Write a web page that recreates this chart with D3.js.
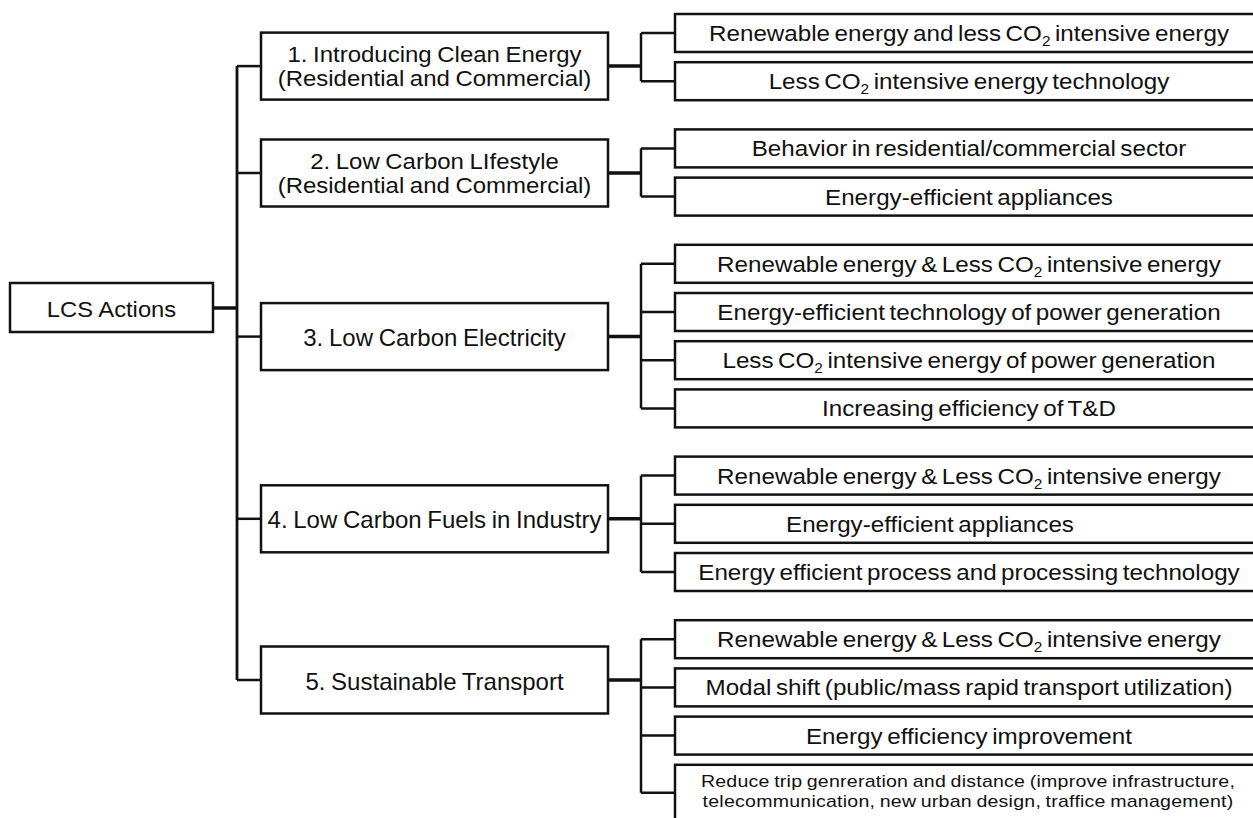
<!DOCTYPE html>
<html>
<head>
<meta charset="utf-8">
<script src="https://cdn.jsdelivr.net/npm/d3@7"></script>
<style>
  html, body { margin: 0; padding: 0; background: #fff; }
  svg { display: block; }
  text { font-family: "Liberation Sans", Arial, sans-serif; fill: #111; }
</style>
</head>
<body>
<svg id="chart" width="1253" height="818"></svg>
<script>
// ---- data ----
const rootLabel = "LCS Actions";
const actionLabels = [
  ["1. Introducing Clean Energy", "(Residential and Commercial)"],
  ["2. Low Carbon LIfestyle", "(Residential and Commercial)"],
  ["3. Low Carbon Electricity"],
  ["4. Low Carbon Fuels in Industry"],
  ["5. Sustainable Transport"]
];
const measures1 = ["Renewable energy and less CO2 intensive energy", "Less CO2 intensive energy technology"];
const measures2 = ["Behavior in residential/commercial sector", "Energy-efficient appliances"];
const measures3 = ["Renewable energy & Less CO2 intensive energy", "Energy-efficient technology of power generation",
                   "Less CO2 intensive energy of power generation", "Increasing efficiency of T&D"];
const measures4 = ["Renewable energy & Less CO2 intensive energy", "Energy-efficient appliances",
                   "Energy efficient process and processing technology"];
const measures5 = ["Renewable energy & Less CO2 intensive energy", "Modal shift (public/mass rapid transport utilization)",
                   "Energy efficiency improvement",
                   ["Reduce trip genreration and distance (improve infrastructure,", "telecommunication, new urban design, traffice management)"]];
const measureGroups = [measures1, measures2, measures3, measures4, measures5];

// ---- layout ----
const svg = d3.select("#chart");
const slot = d3.scaleLinear().domain([0, 1]).range([14, 62.2]); // child slot index -> top
const groupGap = 19;
const childH = 38, childH2 = 56;
const xRoot = [10, 213], xTrunk = 237, xAct = [261, 608], xSub = 641, xChild = [675, 1266];
const actH = 67;
const parentShift = [9, 0.5, 0.5, -5, -40.5];
const childCenterX = 969;

const lineG = svg.append("g").attr("stroke", "#111").attr("fill", "none");
const boxG = svg.append("g");
const textG = svg.append("g");

function addText(x, y, str, opts = {}) {
  const fs = opts.fs || 22;
  const t = textG.append("text").attr("x", x).attr("y", y)
    .attr("text-anchor", opts.anchor || "middle")
    .style("font-size", fs + "px")
    .style("letter-spacing", (opts.ls != null ? opts.ls : 0) + "px")
    .style("word-spacing", (opts.ws != null ? opts.ws : -2) + "px");
  const parts = str.split("CO2");
  parts.forEach((p, i) => {
    if (i > 0) {
      t.append("tspan").text("CO");
      t.append("tspan").text("2").style("font-size", Math.round(fs * 0.64) + "px").attr("dy", 5);
      t.append("tspan").text(p).attr("dy", -5);
    } else if (p.length) {
      t.append("tspan").text(p);
    }
  });
  const stretch = opts.stretch != null ? opts.stretch : 1.1;
  if (stretch !== 1) {
    const len = t.node().getComputedTextLength();
    t.attr("textLength", len * stretch).attr("lengthAdjust", "spacingAndGlyphs");
  }
  return t;
}
function box(x0, x1, y0, y1) {
  boxG.append("rect").attr("x", x0).attr("y", y0).attr("width", x1 - x0).attr("height", y1 - y0)
    .attr("fill", "#fff").attr("stroke", "#111").attr("stroke-width", 2.5);
}
function line(x0, y0, x1, y1, w) {
  lineG.append("line").attr("x1", x0).attr("y1", y0).attr("x2", x1).attr("y2", y1).attr("stroke-width", w);
}

// root
const rootCy = 308;
box(xRoot[0], xRoot[1], rootCy - 25, rootCy + 24);
addText((xRoot[0] + xRoot[1]) / 2, rootCy + 8.5, rootLabel, {ws: 0, stretch: 1.08});
line(xRoot[1], rootCy, xTrunk, rootCy, 3.5);

let k = 0;
const actCenters = [];
measureGroups.forEach((items, g) => {
  const centers = [];
  items.forEach((item, i) => {
    const top = slot(k) + g * groupGap;
    const two = Array.isArray(item);
    const h = two ? childH2 : childH;
    const cy = top + h / 2;
    centers.push(cy);
    box(xChild[0], xChild[1], top, top + h);
    line(xSub, cy, xChild[0], cy, 2.5);
    if (two) {
      addText(childCenterX - 1, cy - 5.5, item[0], {fs: 17, ws: -1, ls: 0.2, stretch: 1.15});
      addText(childCenterX - 1, cy + 14, item[1], {fs: 17, ws: -1, ls: 0.2, stretch: 1.15});
    } else {
      const cx = (g === 3 && i === 1) ? 930 : childCenterX;
      addText(cx, cy + 8, item);
    }
    k++;
  });
  const firstC = centers[0], lastC = centers[centers.length - 1];
  const gTop = slot(k - items.length) + g * groupGap;
  const gBot = slot(k - 1) + g * groupGap + (Array.isArray(items[items.length - 1]) ? childH2 : childH);
  const acy = (items.length === 2 ? (firstC + lastC) / 2 : (gTop + gBot) / 2) + parentShift[g];
  actCenters.push(acy);
  line(xSub, firstC, xSub, lastC, 2.5);
  line(xAct[1], acy, xSub, acy, 3.5);
  box(xAct[0], xAct[1], acy - actH / 2, acy + actH / 2);
  line(xTrunk, acy, xAct[0], acy, 2.5);
  const lbl = actionLabels[g];
  const cx = (xAct[0] + xAct[1]) / 2;
  if (lbl.length === 2) {
    addText(cx, acy - 4.5, lbl[0], {ws: -1, stretch: 1.09});
    addText(cx, acy + 19.5, lbl[1], {ws: -1, stretch: 1.09});
  } else {
    addText(cx, acy + 9.5, lbl[0], {fs: 24, ws: -1, stretch: 1});
  }
});
line(xTrunk, actCenters[0], xTrunk, actCenters[actCenters.length - 1], 2.8);
</script>
</body>
</html>
